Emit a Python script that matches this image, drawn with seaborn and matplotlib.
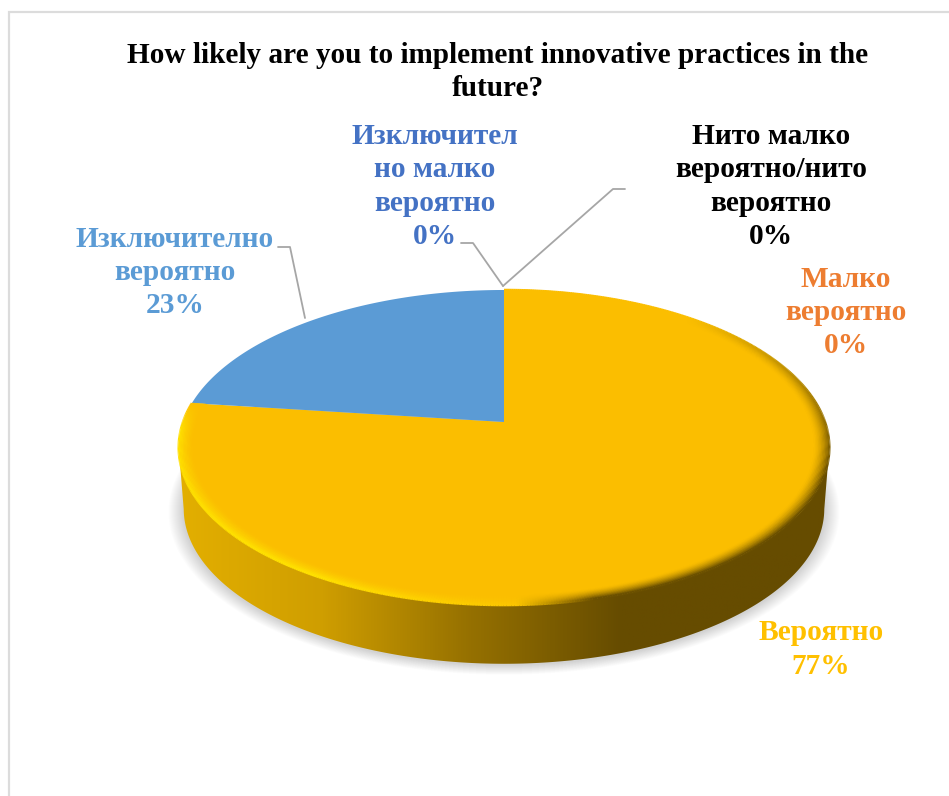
import matplotlib
matplotlib.use("Agg")
import matplotlib.pyplot as plt
import seaborn as sns
import numpy as np
from matplotlib.collections import LineCollection
from matplotlib.colors import LinearSegmentedColormap, to_rgb
from matplotlib.patches import Polygon

# Data
title = "How likely are you to implement innovative practices in the\nfuture?"
categories = ["Изключител\nно малко\nвероятно", "Малко\nвероятно",
              "Нито малко\nвероятно/нито\nвероятно", "Вероятно",
              "Изключително\nвероятно"]
values = [0, 0, 0, 77, 23]
colors = ["#4472C4", "#ED7D31", "#000000", "#FBBE00", "#5B9BD5"]
label_colors = ["#4472C4", "#ED7D31", "#000000", "#FFC000", "#5B9BD5"]

# label placement in pixels
label_pos = [(435, 186.5), (846, 312.5), (771, 186.5), (821, 649.5), (175, 272.5)]
leaders = [[(461, 243), (473, 243), (503, 286)],
           None,
           [(625, 189), (613, 189), (503, 286)],
           None,
           [(278, 247), (290, 247), (305, 318)]]

sns.set_theme(style="white")
plt.rcParams['font.family'] = ['Liberation Serif', 'DejaVu Serif']
palette = sns.color_palette(colors)

# pie geometry
cx, cy = 504, 422
width_a, height_a, persp = 321, 153.4, 0.162
drop, shrink = 62, 0.985


def project(theta, scale=1.0, shift=0.0):
    """Clockwise angle from 12 o'clock to pixel position on the tilted disc."""
    x = np.sin(theta) * scale
    y = np.cos(theta) * scale
    w = 1 + persp * y
    return cx + width_a * x / w, cy + shift - height_a * y / w


fig = plt.figure(figsize=(9.49, 7.96), dpi=100)
ax = fig.add_axes([0, 0, 1, 1])

# frame
ax.plot([9, 9, 949], [796, 12, 12], color="#DCDCDC", lw=1.6, solid_joinstyle="miter")

# soft shadow under the disc
widest = np.arccos(-persp)
arc = np.linspace(widest, 2 * np.pi - widest, 300)
all_round = np.linspace(0, 2 * np.pi, 400)
for grow in np.arange(15, 0, -1.0):
    sx, sy = project(all_round, shrink * (1 + grow / 325), drop + 1)
    ax.fill(sx, sy, color="#000000", alpha=0.011, lw=0)

# side wall with horizontal gradient
top_x, top_y = project(arc)
bot_x, bot_y = project(arc, shrink, drop)
wall = np.column_stack([np.r_[top_x, bot_x[::-1]], np.r_[top_y, bot_y[::-1]]])
wall_cmap = LinearSegmentedColormap.from_list(
    "wall", [(0, "#E3AF00"), (0.22, "#CF9E00"), (0.45, "#957000"),
             (0.68, "#664C00"), (1, "#664C00")])
img = ax.imshow(np.linspace(0, 1, 512)[None, :], cmap=wall_cmap, aspect="auto",
                extent=(178, 830, 680, 430), zorder=2)
clip = Polygon(wall, closed=True, transform=ax.transData)
img.set_clip_path(clip)

# top face, one wedge per non-empty category
fractions = np.array(values) / sum(values)
edges = np.r_[0, np.cumsum(fractions)] * 2 * np.pi
for i, frac in enumerate(fractions):
    if frac == 0:
        continue
    t = np.linspace(edges[i], edges[i + 1], 300)
    px, py = project(t)
    ax.fill(np.r_[cx, px], np.r_[cy, py], color=palette[i], lw=0, zorder=3)

# bevel on the rim of the large slice
gold = np.array(to_rgb(colors[3]))
light = np.array(to_rgb("#FFE000"))
dark = np.array(to_rgb("#6B5000"))
t = np.linspace(edges[3], edges[4], 700)
deg = np.degrees(t)
light_w = np.clip((deg - 170) / 40, 0, 1) * np.clip((277 - deg) / 10, 0, 1)
dark_w = np.clip((deg - 40) / 70, 0, 1) * np.clip((178 - deg) / 12, 0, 1)
steps = 11
for n in range(steps, -1, -1):
    fade = (1 - n / steps) ** 1.6
    px, py = project(t, 1 - n * 0.0042)
    pts = np.column_stack([px, py])
    segs = np.stack([pts[:-1], pts[1:]], axis=1)
    lw_ = light_w[:-1, None] * fade
    dw_ = dark_w[:-1, None] * fade
    seg_colors = gold * (1 - lw_ - dw_) + light * lw_ + dark * dw_
    ax.add_collection(LineCollection(segs, colors=seg_colors, linewidths=1.8, zorder=4))

# leader lines
for line in leaders:
    if line is not None:
        ax.plot(*zip(*line), color="#A6A6A6", lw=1.3, zorder=5)

# labels
ax.text(498, 72, title, ha="center", va="center", fontsize=21.1, fontweight="bold",
        color="black", linespacing=1.3)
for name, value, col, (lx, ly) in zip(categories, values, label_colors, label_pos):
    ax.text(lx, ly, f"{name}\n{value}%", ha="center", va="center", fontsize=21.2,
            fontweight="bold", color=col, linespacing=1.29, zorder=6)

ax.set_xlim(0, 949)
ax.set_ylim(796, 0)
ax.axis("off")
fig.savefig("out.png", dpi=100, facecolor="white")
